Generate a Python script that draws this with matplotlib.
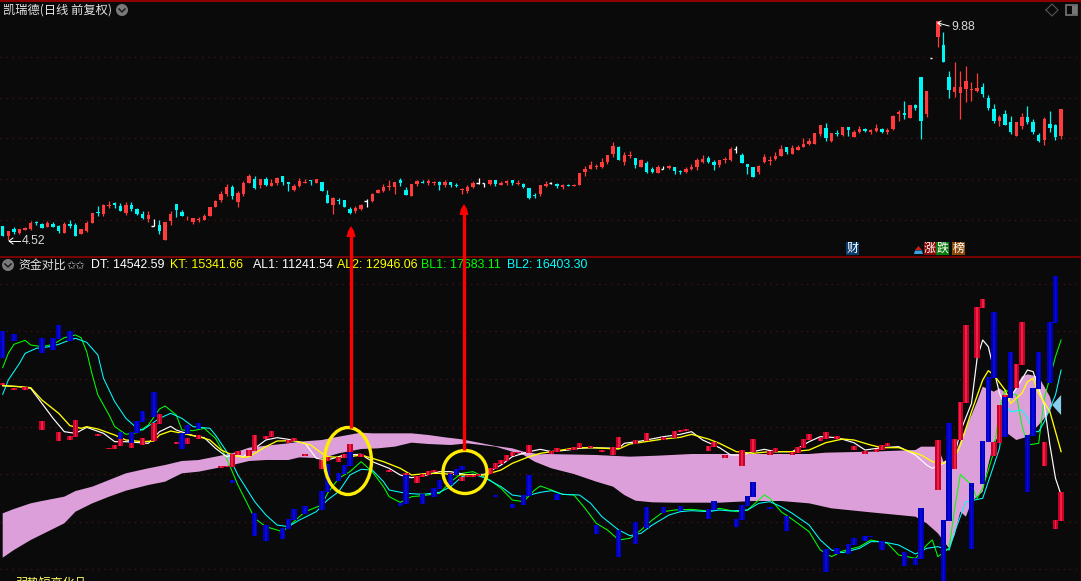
import matplotlib
matplotlib.use('Agg')
import matplotlib.pyplot as plt
from matplotlib.patches import Ellipse, Polygon, Rectangle, Circle
import numpy as np

plt.rcParams['font.family'] = ['Liberation Sans', 'Noto Sans CJK SC', 'DejaVu Sans']

# top panel, candles: open, close, high, low on the panel's own 0-780 scale
opens = [102,72,93,81,90,92,114,108,99,108,102,81,108,105,78,87,111,144,138,162,171,162,141,165,153,138,123,102,105,60,
         117,168,144,119,114,120,120,132,159,180,198,219,174,198,231,243,225,243,222,231,252,234,210,222,231,240,231,234,195,165,
         180,180,153,147,154,177,177,201,207,219,219,240,210,192,228,234,231,231,234,225,234,225,210,207,219,231,230,228,240,225,
         231,240,228,228,216,195,198,222,231,228,219,225,222,225,264,273,279,279,294,318,339,294,312,306,279,291,273,261,273,276,
         279,267,264,273,279,294,306,294,285,299,300,333,315,288,279,264,294,297,303,312,339,318,330,339,348,348,378,396,357,381,
         375,399,369,384,393,384,387,393,384,393,438,441,426,465,549,438,605,669,645,549,504,501,513,510,507,519,486,453,417,438,
         414,372,402,429,414,375,360,408,405,372]
closes = [72,87,83,93,95,111,111,96,111,99,87,108,102,72,93,111,141,141,165,165,165,147,165,153,138,126,135,102,87,114,
          138,150,132,121,126,123,132,159,177,198,219,192,201,231,252,216,243,225,231,246,234,228,222,237,234,237,243,207,171,186,
          177,159,141,156,164,177,198,210,219,222,234,231,195,228,237,231,237,234,225,234,225,222,213,219,231,231,230,240,228,231,
          237,231,231,219,186,192,225,228,231,222,225,222,225,261,273,285,282,294,315,342,300,315,315,285,300,264,264,279,273,282,
          267,264,273,279,300,303,294,285,300,302,333,333,291,279,249,282,309,300,312,333,324,336,339,348,357,381,405,366,381,378,
          399,390,384,393,387,390,396,384,390,432,444,435,465,456,417,507,605,717,594,510,519,519,537,513,516,498,456,417,429,405,
          384,414,429,414,384,357,423,396,369,453]
highs = [102,87,99,93,99,117,117,111,117,114,105,114,120,111,93,117,141,162,168,177,174,171,174,174,156,147,147,123,120,114,
         147,168,150,132,126,129,138,159,180,207,228,225,207,237,258,252,243,249,243,249,252,234,228,246,243,240,243,234,210,189,
         186,180,159,162,168,183,201,213,228,240,234,246,219,228,240,240,243,237,237,240,234,231,216,225,237,246,231,240,240,237,
         240,240,240,231,216,201,225,237,234,231,228,228,228,261,282,297,288,306,315,354,342,324,327,306,303,297,279,285,282,285,
         279,270,279,288,306,315,312,300,300,308,339,342,321,288,279,285,318,312,324,345,339,345,345,366,366,381,405,411,381,390,
         399,399,390,402,396,393,408,396,396,435,450,477,465,468,549,507,605,717,684,567,594,567,582,534,561,531,495,468,435,450,
         432,414,441,462,423,381,429,447,408,453]
lows = [72,60,78,78,90,90,105,96,99,99,81,81,96,72,78,84,111,132,132,156,156,147,135,147,135,123,114,102,78,60,
        105,129,132,119,108,114,120,132,159,174,192,183,159,192,231,213,216,222,222,225,225,207,207,219,231,225,231,207,171,138,
        168,159,138,141,150,160,174,201,204,210,198,222,195,192,222,231,225,225,210,219,219,219,198,201,216,228,219,225,222,225,
        225,225,225,216,183,186,192,219,228,216,213,222,222,225,252,273,273,276,288,309,300,285,306,276,279,261,261,261,273,273,
        258,258,261,270,270,291,291,270,279,291,297,321,291,258,249,258,291,285,300,312,318,318,330,339,345,348,372,357,354,372,
        372,372,369,381,384,378,384,381,378,390,417,423,426,450,363,429,605,639,594,486,489,423,474,477,504,489,450,411,402,405,
        378,372,393,408,378,354,345,384,360,363]

# lower panel bars on the panel's own 0-978 scale
red_i = [0,2,4,7,10,12,13,17,19,20,21,23,25,27,28,31,33,35,39,40,41,42,44,45,47,48,51,52,54,57,58,60,61,62,
         64,69,72,74,75,76,77,80,82,83,84,85,87,88,89,90,91,92,94,98,99,101,102,103,105,107,109,110,113,115,118,120,121,122,126,127,
         129,132,134,137,138,141,142,143,144,146,147,149,152,154,156,157,158,167,170,171,172,174,175,177,178,179,181,182,186,188,189]
red_top = [593,578,582,480,447,435,483,440,400,408,426,416,428,475,501,417,429,438,346,346,381,390,393,438,434,450,423,429,381,363,372,372,381,411,
           381,333,324,315,321,330,333,324,312,318,318,321,339,354,363,378,387,387,408,390,399,396,402,414,405,393,402,432,423,444,432,450,453,456,405,417,
           378,393,426,390,399,387,402,426,441,429,447,435,405,390,396,408,414,423,426,537,768,822,846,417,528,558,651,777,417,183,267]
red_bot = [588,573,573,453,420,423,433,435,397,397,405,398,409,420,471,411,410,427,338,343,343,378,375,391,427,432,414,421,375,337,361,358,369,386,
           372,327,318,294,312,318,327,318,300,312,312,315,321,336,351,360,375,384,384,381,387,393,393,399,399,387,378,399,411,420,423,429,447,450,390,402,
           369,345,387,378,387,378,384,399,423,420,426,426,393,381,387,393,405,273,336,423,534,669,819,375,414,552,579,648,345,156,180]
blue_i = [0,2,7,9,10,12,21,23,24,25,27,32,33,35,41,45,47,50,51,52,54,57,58,60,61,62,
          71,72,75,77,78,80,81,82,88,91,93,94,99,106,110,113,115,118,121,126,127,
          131,132,133,134,137,140,147,149,151,152,154,155,157,161,163,164,168,169,173,175,176,177,179,180,183,184,185,187,188]
blue_top = [750,741,728,728,768,750,446,446,480,510,566,445,469,474,302,204,169,159,185,216,225,270,351,324,348,386,
            234,318,261,279,303,321,336,345,258,231,258,318,261,168,153,177,222,222,225,216,240,
            186,228,255,297,222,195,96,99,111,129,135,135,120,87,69,219,183,474,294,420,612,807,552,687,438,579,687,777,915]
blue_bot = [670,720,685,693,726,720,426,415,445,477,492,397,440,456,295,135,121,127,156,183,200,213,267,301,321,345,
            225,231,231,252,276,288,318,333,252,219,228,255,243,141,72,111,159,204,210,186,213,
            162,183,225,252,216,150,27,81,81,108,120,132,93,45,48,66,0,180,96,291,417,609,432,549,267,435,576,594,774]

white_i = [0,3,5,7,9,11,13,15,18,20,22,26,28,30,31,34,36,38,40,41,43,45,47,49,51,54,56,58,61,64,
           66,69,71,73,75,78,80,83,86,89,91,94,96,98,101,103,105,110,111,114,118,121,123,125,128,
           130,132,134,136,138,141,144,146,149,152,154,157,160,163,165,166,168,170,171,173,174,175,176,178,179,181,183,184,186,187,188,189]
white_v = [586,583,578,533,488,448,443,461,443,418,418,413,448,464,453,436,430,398,373,378,373,398,423,430,425,413,368,363,378,380,
           358,338,318,310,315,328,328,318,320,348,373,388,395,388,393,398,400,398,413,420,433,440,448,423,400,
           378,378,388,395,388,388,418,433,430,415,393,400,403,378,348,338,353,378,448,533,668,723,703,563,528,578,633,628,528,408,308,258]
yellow_i = [0,3,5,7,10,12,14,15,17,20,22,25,27,28,30,32,35,37,39,41,43,44,47,49,52,55,57,58,60,62,64,
            66,68,71,73,76,78,80,83,86,89,91,94,96,98,101,103,105,110,112,114,118,121,123,126,128,
            131,134,137,141,144,147,150,152,155,157,160,164,166,168,170,171,173,175,176,177,179,180,182,183,184,185,187,189]
yellow_v = [586,583,580,543,503,466,458,463,456,438,423,418,420,438,450,443,433,423,393,378,371,373,403,420,421,408,383,373,371,373,378,
            368,358,338,318,323,323,320,318,318,333,353,373,383,388,396,400,400,396,411,416,426,431,440,426,413,
            388,383,388,388,393,415,426,423,408,400,400,378,358,353,368,408,508,603,631,618,573,533,563,598,608,563,508,388]
green_i = [0,1,2,4,5,7,9,11,13,14,15,16,17,19,20,22,24,26,28,29,31,32,34,36,38,40,42,45,47,50,52,54,57,58,60,62,64,
           66,68,69,71,73,75,78,80,82,84,85,87,89,91,93,95,96,98,100,102,104,106,108,110,112,114,116,118,120,123,126,128,
           131,133,136,137,139,141,144,146,148,150,153,155,158,160,163,165,166,167,169,170,171,173,174,175,177,178,179,181,182,183,185,186,188,189]
green_v = [640,683,710,722,708,703,710,730,738,730,688,618,558,498,463,440,445,468,516,525,498,453,451,458,428,368,288,188,163,148,178,208,228,263,308,328,358,
           328,283,253,236,253,256,263,298,323,328,320,303,278,243,238,273,285,273,260,258,218,173,153,123,128,153,183,208,213,215,210,218,
           208,213,258,248,208,185,148,93,73,90,103,123,113,78,68,108,123,73,98,218,320,288,248,278,388,518,573,558,468,408,413,548,673,723]
cyan_i = [0,1,3,4,6,8,10,12,13,15,17,18,20,22,24,25,28,30,32,34,37,38,40,42,45,47,49,51,53,56,58,60,62,64,
          66,68,69,72,75,78,80,82,84,86,89,91,93,96,98,100,103,105,107,110,112,114,116,119,121,123,126,128,
          130,133,135,137,139,141,144,146,148,150,153,155,157,160,163,165,167,169,170,172,175,176,178,179,180,182,183,184,185,186,187,188,189]
cyan_v = [560,603,653,683,698,702,710,723,728,716,678,608,538,488,458,453,488,503,488,463,458,438,388,318,238,198,168,163,183,208,243,268,318,335,
          333,298,273,263,260,266,283,313,321,310,283,258,253,266,271,260,258,233,193,153,136,143,168,198,208,211,208,213,
          210,213,233,238,223,203,168,123,93,85,98,118,118,108,81,98,103,93,148,238,248,298,398,528,508,513,488,448,448,478,518,558,633]

band_up_i = [0,2,5,7,11,13,16,19,22,26,29,32,35,38,41,44,47,51,53,57,59,64,66,70,73,76,79,82,85,88,91,93,96,97,106,112,117,123,128,
             134,144,147,155,163,164,167,168,170,171,174,175,177,178,180,182,183,185,186,187,187.4]
band_up = [203,216,233,240,253,270,283,303,323,338,348,360,363,373,383,400,406,413,418,423,430,445,443,443,443,438,431,425,415,405,398,388,380,381,378,373,376,381,381,
           381,381,385,388,393,403,403,358,378,418,538,583,568,578,553,613,620,613,583,553,528]
band_low_i = [0,2,5,8,11,13,16,19,22,26,29,32,35,38,41,44,47,51,53,57,60,64,67,70,73,76,80,83,88,91,93,95,98,102,106,109,111,113,116,120,128,
              134,139,144,148,155,163,165,167,169,170,171,172,173,175,176,177,179,181,183,185,187,187.4]
band_low = [70,93,123,148,173,208,233,253,271,288,298,323,328,338,348,360,363,363,371,368,383,396,398,403,415,411,408,413,403,388,378,358,338,321,298,283,258,241,236,235,235,
            240,240,233,218,206,193,173,143,98,138,208,193,238,268,348,418,448,423,433,468,508,528]
cross_i = [187.4,189,189]
cross_v = [528,558,498]

price_grid = [608,485,365,242,119]
flow_grid = [890,749,605,461,320,176,35]

BG = '#0a0a0a'
RED = '#ff3b3b'
CYAN = '#00f5f5'
FRAME = '#8c0000'
GRID = '#5e1212'

# x scale: candle i sits 2.7 + 5.6*i pixels from the left
xlim = (-2.7/5.6, (1081-2.7)/5.6)

fig = plt.figure(figsize=(10.81, 5.81), dpi=100, facecolor=BG)
ax_top = fig.add_axes([0, 1-260/581, 1, 260/581], facecolor=BG)
ax_low = fig.add_axes([0, 0, 1, 326/581], facecolor=BG)
ax = fig.add_axes([0, 0, 1, 1], facecolor='none')
ax.set_xlim(0, 1081)
ax.set_ylim(581, 0)

ax_top.set_xlim(xlim)
ax_top.set_ylim(0, 780)
ax_low.set_xlim(xlim)
ax_low.set_ylim(0, 978)
for a in (ax_top, ax_low, ax):
    a.axis('off')

for g in price_grid:
    ax_top.axhline(g, color=GRID, lw=0.8, dashes=(1, 4.5), zorder=1)
for g in flow_grid:
    ax_low.axhline(g, color=GRID, lw=0.8, dashes=(1, 4.5), zorder=1)

# candles
x = np.arange(len(opens))
o, c, h, l = map(np.array, (opens, closes, highs, lows))
colors = np.where(c > o, RED, np.where(c < o, CYAN, '#ffffff'))
ax_top.vlines(x, l, h, colors=colors, lw=0.9, zorder=3)
ax_top.bar(x, np.abs(c-o), bottom=np.minimum(o, c), width=0.64, color=colors, zorder=4)
flat = c == o
ax_top.hlines(c[flat], x[flat]-0.45, x[flat], colors='#ffffff', lw=1.0, zorder=4)

# lower panel
ax_low.fill(np.r_[band_up_i, band_low_i[::-1]], np.r_[band_up, band_low[::-1]], color='#dd9fd9', lw=0, zorder=2)
ax_low.fill(cross_i, cross_v, color='#87ceeb', lw=0, zorder=2)
ax_low.plot(green_i, green_v, color='#00ff00', lw=0.75, zorder=3)
ax_low.plot(cyan_i, cyan_v, color='#00ffff', lw=0.75, zorder=3)
ax_low.plot(white_i, white_v, color='#ffffff', lw=0.85, zorder=3)
ax_low.plot(yellow_i, yellow_v, color='#ffff00', lw=0.95, zorder=3)

r_t, r_b = np.array(red_top), np.array(red_bot)
b_t, b_b = np.array(blue_top), np.array(blue_bot)
ax_low.bar(red_i, r_t-r_b, bottom=r_b, width=0.94, color='#c8002c', zorder=5)
ax_low.bar(red_i, r_t-r_b, bottom=r_b, width=0.3, color='#f02040', zorder=5)
ax_low.bar(blue_i, b_t-b_b, bottom=b_b, width=0.94, color='#0000bb', zorder=5)
ax_low.bar(blue_i, b_t-b_b, bottom=b_b, width=0.3, color='#0808d8', zorder=5)

# frame
ax.plot([0, 1081], [1, 1], color=FRAME, lw=1.5, zorder=6)
ax.plot([0, 1081], [256.5, 256.5], color=FRAME, lw=1.2, zorder=6)
ax.plot([1080.5, 1080.5], [0, 581], color=FRAME, lw=1.0, zorder=6)

# hand-drawn markup
ax.add_patch(Ellipse((348, 461), 47, 67, fill=False, ec='#ffee00', lw=2.4, zorder=8))
ax.add_patch(Ellipse((465, 472), 44, 43, fill=False, ec='#ffee00', lw=2.4, zorder=8))
ax.plot([351, 351, 350.5, 350.5], [236, 325, 325, 428], color='#ff0000', lw=2.4, zorder=9, solid_capstyle='butt')
ax.plot([464, 464], [214, 450], color='#ff0000', lw=2.4, zorder=9, solid_capstyle='butt')
for tip_x, tip_y in ((351, 226), (464, 204)):
    ax.add_patch(Polygon([(tip_x, tip_y), (tip_x+3, tip_y+5), (tip_x+4.5, tip_y+11), (tip_x-4.5, tip_y+11), (tip_x-3, tip_y+5)],
                         color='#ff0000', lw=0, zorder=9))

# titles and readouts
ax.text(3, 10, '凯瑞德(日线 前复权)', color='#e4e4e4', fontsize=8.8, va='center', family=['Noto Sans CJK SC'])
ax.text(18, 265.5, '资金对比', color='#e4e4e4', fontsize=8.6, va='center', family=['Noto Sans CJK SC'])
ax.text(67, 265.5, '✩✩', color='#d0d0d0', fontsize=8, va='center', family=['DejaVu Sans'])
labels = ['DT: 14542.59', 'KT: 15341.66', 'AL1: 11241.54', 'AL2: 12946.06', 'BL1: 17683.11', 'BL2: 16403.30']
label_x = [91, 170, 253, 337, 421, 507]
label_c = ['#ffffff', '#ffff00', '#ffffff', '#ffff00', '#00ff00', '#00ffff']
for t, lx, lc in zip(labels, label_x, label_c):
    ax.text(lx, 265.5, t, color=lc, fontsize=8.9, va='center', zorder=7)
ax.text(15, 583, '弱势短高化品', color='#ffff66', fontsize=8.6, va='center', family=['Noto Sans CJK SC'], clip_on=True)

for cx, cy in ((122, 10), (8, 265)):
    ax.add_patch(Circle((cx, cy), 6, color='#7a7a7a', lw=0, zorder=6))
    ax.plot([cx-3, cx, cx+3], [cy-1, cy+2, cy-1], color='#1c1c1c', lw=1.1, zorder=7)

ax.plot([1046, 1052, 1058, 1052, 1046], [10, 4, 10, 16, 10], color='#555555', lw=0.8)
ax.add_patch(Rectangle((1065.5, 5), 11, 10, fc='none', ec='#777777', lw=1.2))
ax.add_patch(Rectangle((1071.5, 6), 5, 8, fc='#777777', lw=0))

# price extremes
ax.text(22, 241.5, '4.52', color='#d8d8d8', fontsize=8.8, va='center')
ax.plot([20, 9], [241, 241], color='#ffffff', lw=0.7)
ax.plot([13, 9, 13], [238, 241, 244], color='#ffffff', lw=0.7)
ax.text(951, 27, '9.88', color='#d8d8d8', fontsize=8.8, va='center')
ax.plot([949, 938], [26, 23], color='#ffffff', lw=0.7)
ax.plot([941, 938, 941], [21, 23, 26], color='#ffffff', lw=0.7)

# badges on the price panel
badges = ['财', '涨', '跌', '榜']
badge_x = [846, 924, 936, 952]
badge_w = [13, 12, 13, 13]
badge_c = ['#0a3c6e', '#8a0a0a', '#0a7a0a', '#8a4a0a']
for t, bx, bw, bc in zip(badges, badge_x, badge_w, badge_c):
    ax.add_patch(Rectangle((bx, 242), bw, 13, fc=bc, lw=0, zorder=6))
    ax.text(bx+bw/2, 248.5, t, color='#ffffff', fontsize=8.6, ha='center', va='center', zorder=7, family=['Noto Sans CJK SC'])
ax.add_patch(Polygon([(918.5, 246), (922, 250), (915, 250)], color='#d01818', lw=0, zorder=6))
ax.add_patch(Polygon([(915, 250.5), (922, 250.5), (923, 254), (914, 254)], color='#3aa0e0', lw=0, zorder=6))

fig.savefig('out.png', dpi=100, facecolor=BG)
